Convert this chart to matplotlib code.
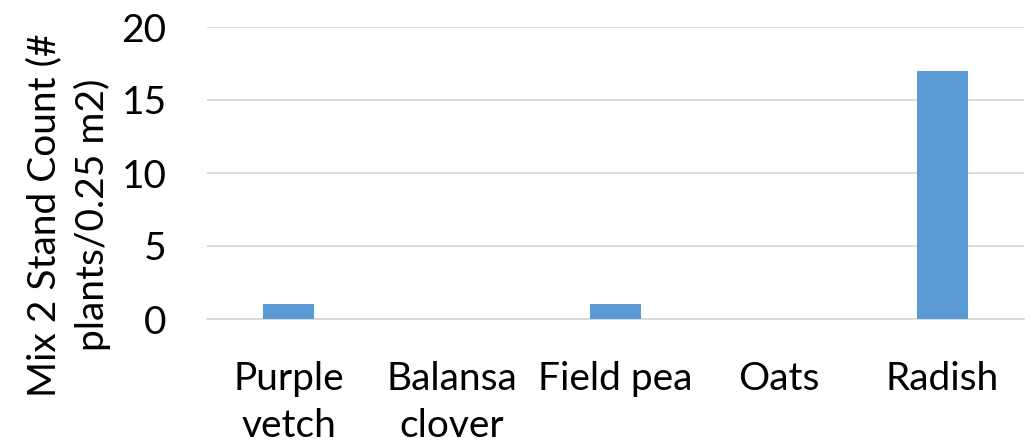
import matplotlib.pyplot as plt

# data
categories = ['Purple\nvetch', 'Balansa\nclover', 'Field pea', 'Oats', 'Radish']
counts = [1, 0, 1, 0, 17]
yticks = [0, 5, 10, 15, 20]

plt.rcParams['font.family'] = ['Lato', 'DejaVu Sans']

W, H = 1033, 448
fig = plt.figure(figsize=(W / 100, H / 100), dpi=100)
ax = fig.add_axes([207 / W, 1 - 319 / H, (1024 - 207) / W, (319 - 27) / H])

x = range(len(categories))
ax.bar(x, counts, width=0.31, color='#5B9BD5', zorder=3)

ax.set_xlim(-0.5, len(categories) - 0.5)
ax.set_ylim(0, 20)
ax.set_yticks(yticks)
ax.set_xticks(list(x))
ax.set_xticklabels(categories, fontsize=28, linespacing=1.38, va='top')
ax.tick_params(axis='y', labelsize=28, length=0, pad=29)
ax.tick_params(axis='x', length=0, pad=30)

ax.grid(axis='y', color='#D9D9D9', linewidth=1.3, zorder=0)
for s in ['top', 'right', 'left']:
    ax.spines[s].set_visible(False)
ax.spines['bottom'].set_color('#D9D9D9')
ax.spines['bottom'].set_linewidth(1.3)

fig.text(69 / W, 1 - 215 / H, 'Mix 2 Stand Count (#\nplants/0.25 m2)',
         rotation=90, ha='center', va='center', fontsize=28,
         linespacing=1.38, multialignment='center')

fig.savefig('out.png', dpi=100)
